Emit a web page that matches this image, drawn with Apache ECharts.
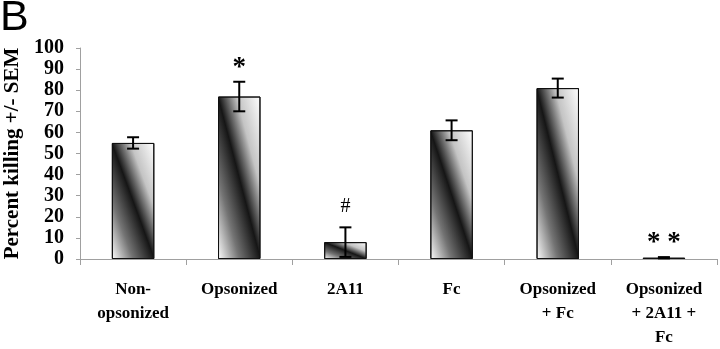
<!DOCTYPE html>
<html>
<head>
<meta charset="utf-8">
<script src="https://cdn.jsdelivr.net/npm/echarts@6/dist/echarts.min.js"></script>
<style>
  html, body { margin: 0; padding: 0; background: #fff; }
  #chart { width: 720px; height: 349px; }
</style>
</head>
<body>
<div id="chart"></div>
<script>
// 数据
var categories = ['Non-\nopsonized', 'Opsonized', '2A11', 'Fc', 'Opsonized\n+ Fc', 'Opsonized\n+ 2A11 +\nFc'];
var killing = [55, 77, 8, 61, 81, 0.6];      // 平均值
var sem = [2.7, 7, 7, 4.7, 4.5, 0.3];        // 误差
var marks = ['', '*', '#', '', '', '* *'];   // 显著性标记
var yTicks = [0, 10, 20, 30, 40, 50, 60, 70, 80, 90, 100];

var serif = "'Liberation Serif', 'Times New Roman', serif";
var dom = document.getElementById('chart');
var myChart = echarts.init(dom, null, { renderer: 'canvas' });

// 斜向渐变 (像 Excel 那样沿着柱子的对角线)
function barGradient(w, h) {
	var L2 = w * w + h * h;
	return new echarts.graphic.LinearGradient(0, 1, 2 * h * h / L2, 1 - 2 * w * w / L2, [
		{ offset: 0, color: '#ffffff' },
		{ offset: 0.25, color: '#747474' },
		{ offset: 0.5, color: '#151515' },
		{ offset: 0.72, color: '#c4c4c4' },
		{ offset: 1, color: '#ffffff' }
	]);
}

var option = {
	animation: false,
	grid: { left: 80, right: 3, top: 48, bottom: 90, containLabel: false, outerBoundsMode: 'none' },
	graphic: [{
		type: 'text', left: 0, top: -3,
		style: { text: 'B', font: "43px 'Liberation Sans', Arial, sans-serif", fill: '#000' }
	}],
	xAxis: {
		type: 'category',
		data: categories,
		axisLine: { lineStyle: { color: '#a0a0a0', width: 1 } },
		axisTick: { show: true, length: 6, lineStyle: { color: '#a0a0a0' } },
		axisLabel: {
			interval: 0, margin: 19, color: '#000',
			fontFamily: serif, fontWeight: 'bold', fontSize: 17, lineHeight: 24
		}
	},
	yAxis: {
		type: 'value', min: 0, max: 100, interval: 10,
		name: 'Percent killing +/- SEM',
		nameLocation: 'middle', nameGap: 56, nameRotate: 90,
		nameTextStyle: { fontFamily: serif, fontWeight: 'bold', fontSize: 21, color: '#000' },
		splitLine: { show: false },
		axisLine: { show: true, lineStyle: { color: '#a0a0a0' } },
		axisTick: { show: true, length: 4, lineStyle: { color: '#a0a0a0' } },
		axisLabel: {
			margin: 16, color: '#000',
			fontFamily: serif, fontWeight: 'bold', fontSize: 20,
			formatter: function (v) { return yTicks.indexOf(v) >= 0 ? v : ''; }
		}
	},
	series: [{
		type: 'bar',
		barWidth: '40%',
		data: killing,
		itemStyle: { color: '#555', borderColor: '#111', borderWidth: 1 }
	}, {
		type: 'custom',
		data: killing.map(function (v, i) { return [i, v, sem[i]]; }),
		renderItem: function (params, api) {
			var x = api.coord([api.value(0), 0])[0];
			var top = api.coord([api.value(0), api.value(1) + api.value(2)])[1];
			var bot = api.coord([api.value(0), Math.max(0, api.value(1) - api.value(2))])[1];
			var cap = 6;
			var st = { stroke: '#000', lineWidth: 2 };
			var children = [
				{ type: 'line', shape: { x1: x, y1: top, x2: x, y2: bot }, style: st },
				{ type: 'line', shape: { x1: x - cap, y1: top, x2: x + cap, y2: top }, style: st },
				{ type: 'line', shape: { x1: x - cap, y1: bot, x2: x + cap, y2: bot }, style: st }
			];
			var m = marks[params.dataIndex];
			if (m) {
				var isStar = m.indexOf('*') >= 0;
				children.push({
					type: 'text',
					style: {
						text: m, x: x, y: top - (isStar ? 14 : 11),
						align: 'center', verticalAlign: isStar ? 'middle' : 'bottom',
						font: (isStar ? 'bold 27px ' : '20px ') + serif, fill: '#000'
					}
				});
			}
			return { type: 'group', children: children };
		},
		z: 5
	}]
};
myChart.setOption(option);

// 第二步：按像素大小给每根柱子设渐变
var bandW = myChart.convertToPixel({ xAxisIndex: 0 }, 1) - myChart.convertToPixel({ xAxisIndex: 0 }, 0);
var barW = bandW * 0.4;
var y0 = myChart.convertToPixel({ yAxisIndex: 0 }, 0);
var barData = killing.map(function (v) {
	var h = Math.max(1, y0 - myChart.convertToPixel({ yAxisIndex: 0 }, v));
	return { value: v, itemStyle: { color: barGradient(barW, h) } };
});
myChart.setOption({ series: [{ data: barData }] });

window.addEventListener('resize', function () { myChart.resize(); });
</script>
</body>
</html>
